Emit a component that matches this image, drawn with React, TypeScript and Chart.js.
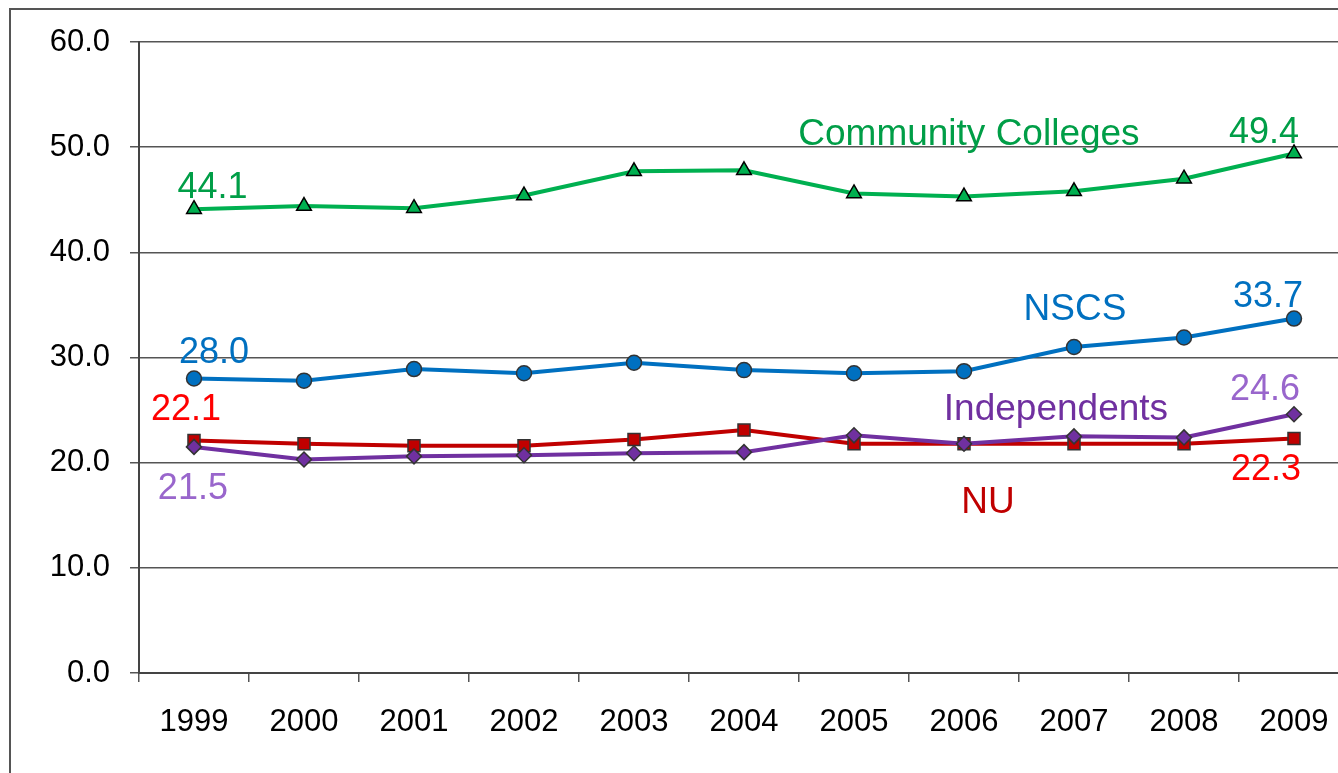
import React, { useEffect, useRef } from 'react';
import { Chart, registerables } from 'chart.js';
Chart.register(...registerables);

const categories = ['1999', '2000', '2001', '2002', '2003', '2004', '2005', '2006', '2007', '2008', '2009'];
const communityColleges = [44.1, 44.4, 44.2, 45.4, 47.7, 47.8, 45.6, 45.3, 45.8, 47.0, 49.4];
const nscs = [28.0, 27.8, 28.9, 28.5, 29.5, 28.8, 28.5, 28.7, 31.0, 31.9, 33.7];
const nu = [22.1, 21.8, 21.6, 21.6, 22.2, 23.1, 21.8, 21.8, 21.8, 21.8, 22.3];
const independents = [21.5, 20.3, 20.6, 20.7, 20.9, 21.0, 22.6, 21.8, 22.5, 22.4, 24.6];

const yMin = 0;
const yMax = 60;
const yStep = 10;

// Text annotations: text, category position (index), value position (baseline), colour, font size
const annoText = ['44.1', '49.4', 'Community Colleges', '28.0', '33.7', 'NSCS', '22.1', '21.5', 'Independents', '24.6', '22.3', 'NU'];
const annoIndex = [0.168, 9.727, 7.045, 0.182, 9.764, 8.009, -0.073, -0.01, 7.836, 9.736, 9.745, 7.218];
const annoValue = [45.2, 50.4, 50.2, 29.5, 34.8, 33.56, 24.06, 16.55, 24.05, 25.96, 18.35, 15.2];
const annoColor = ['#009E47', '#009E47', '#009E47', '#0070C0', '#0070C0', '#0070C0', '#FF0000', '#9966CC', '#7030A0', '#9966CC', '#FF0000', '#C00000'];
const annoSize = [36, 36, 37, 36, 36, 37, 36, 36, 37, 36, 36, 37];

const FONT = '"Liberation Sans", Arial, sans-serif';
const W = 1370;
const H = 773;

const framePlugin = {
  id: 'frameAndLabels',
  beforeDraw(chart: any) {
    const ctx = chart.ctx;
    ctx.save();
    ctx.fillStyle = '#ffffff';
    ctx.fillRect(0, 0, chart.width, chart.height);
    ctx.strokeStyle = '#555555';
    ctx.lineWidth = 2;
    ctx.strokeRect(10, 9, chart.width + 50, chart.height + 50);
    ctx.restore();
  },
  afterDraw(chart: any) {
    const ctx = chart.ctx;
    const xs = chart.scales.x;
    const ys = chart.scales.y;
    ctx.save();
    ctx.textAlign = 'center';
    ctx.textBaseline = 'alphabetic';
    for (let i = 0; i < annoText.length; i++) {
      ctx.font = `${annoSize[i]}px ${FONT}`;
      ctx.fillStyle = annoColor[i];
      ctx.fillText(annoText[i], xs.getPixelForValue(annoIndex[i]), ys.getPixelForValue(annoValue[i]));
    }
    ctx.restore();
  },
};

export default function App() {
  const ref = useRef<HTMLCanvasElement>(null);
  useEffect(() => {
    const chart = new Chart(ref.current as HTMLCanvasElement, {
      type: 'line',
      data: {
        labels: categories,
        datasets: [
          {
            label: 'Independents',
            data: independents,
            borderColor: '#7030A0',
            backgroundColor: '#7030A0',
            borderWidth: 4,
            pointStyle: 'rectRot',
            pointRadius: 7.5,
            pointBackgroundColor: '#7030A0',
            pointBorderColor: '#333333',
            pointBorderWidth: 1.5,
            tension: 0,
          },
          {
            label: 'NU',
            data: nu,
            borderColor: '#C00000',
            backgroundColor: '#C00000',
            borderWidth: 4,
            pointStyle: 'rect',
            pointRadius: 8.5,
            pointBackgroundColor: '#C00000',
            pointBorderColor: '#333333',
            pointBorderWidth: 1.5,
            tension: 0,
          },
          {
            label: 'NSCS',
            data: nscs,
            borderColor: '#0070C0',
            backgroundColor: '#0070C0',
            borderWidth: 4,
            pointStyle: 'circle',
            pointRadius: 7.5,
            pointBackgroundColor: '#0070C0',
            pointBorderColor: '#333333',
            pointBorderWidth: 1.5,
            tension: 0,
          },
          {
            label: 'Community Colleges',
            data: communityColleges,
            borderColor: '#00B050',
            backgroundColor: '#00B050',
            borderWidth: 4,
            pointStyle: 'triangle',
            pointRadius: 8.5,
            pointBackgroundColor: '#00B050',
            pointBorderColor: '#000000',
            pointBorderWidth: 1.5,
            tension: 0,
          },
        ],
      },
      options: {
        responsive: false,
        animation: false,
        devicePixelRatio: 1,
        layout: { padding: { left: 0, right: W - 1349, top: 42, bottom: 0 } },
        plugins: {
          legend: { display: false },
          tooltip: { enabled: false },
          title: { display: false },
        },
        scales: {
          x: {
            type: 'category',
            offset: true,
            grid: {
              display: true,
              drawOnChartArea: false,
              drawTicks: true,
              tickLength: 9,
              offset: true,
              color: '#555555',
              lineWidth: 1.5,
            },
            border: { display: true, color: '#444444', width: 2 },
            ticks: {
              font: { family: FONT, size: 31 },
              color: '#000000',
              padding: 22,
              maxRotation: 0,
              autoSkip: false,
            },
            afterFit: (s: any) => {
              s.height = 100;
            },
          },
          y: {
            min: yMin,
            max: yMax,
            ticks: {
              stepSize: yStep,
              callback: (v: any) => Number(v).toFixed(1),
              font: { family: FONT, size: 31 },
              color: '#000000',
              padding: 20,
            },
            grid: {
              color: '#555555',
              lineWidth: 1.5,
              drawTicks: true,
              tickLength: 9,
            },
            border: { display: true, color: '#444444', width: 2 },
            afterFit: (s: any) => {
              s.width = 139;
            },
          },
        },
      },
      plugins: [framePlugin],
    } as any);
    return () => chart.destroy();
  }, []);

  return (
    <div
      style={{
        position: 'fixed',
        left: 0,
        top: 0,
        width: 1338,
        height: 773,
        overflow: 'hidden',
        background: '#ffffff',
      }}
    >
      <canvas ref={ref} width={W} height={H} style={{ display: 'block', width: W, height: H }} />
    </div>
  );
}
